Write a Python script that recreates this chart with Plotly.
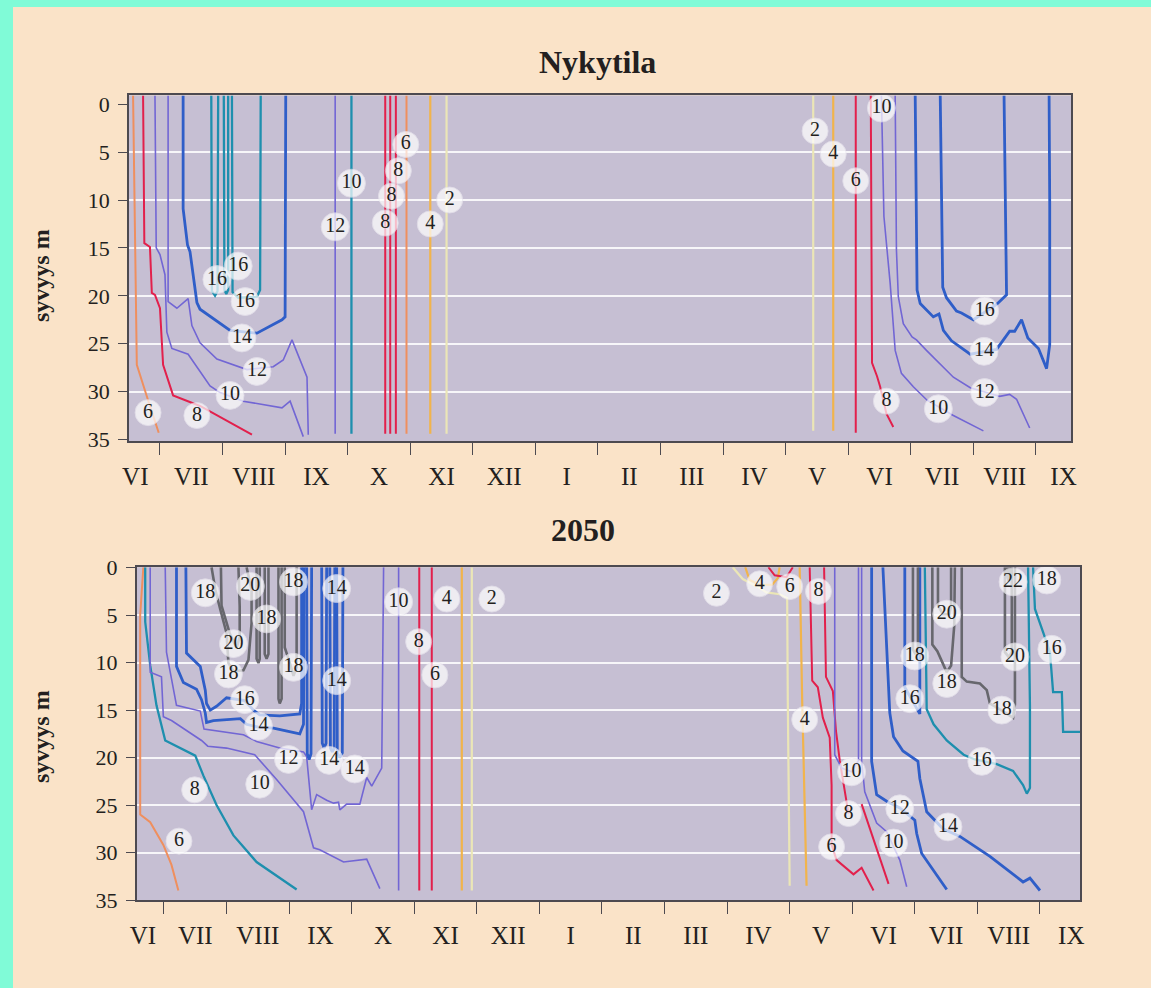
import plotly.graph_objects as go

W, H = 1151, 988

MONTHS = ["VI", "VII", "VIII", "IX", "X", "XI", "XII", "I", "II", "III",
          "IV", "V", "VI", "VII", "VIII", "IX"]
DEPTH_TICKS = [0, 5, 10, 15, 20, 25, 30, 35]
GRID_DEPTHS = [5, 10, 15, 20, 25, 30]

# line colours
PALE = "#ebe6b6"
YELLOW = "#f1b44c"
ORANGE = "#ef8f5e"
RED = "#e2204c"
PURPLE = "#7266d4"
BLUE = "#2f5ec8"
TEAL = "#1e8fae"
GRAY = "#67676d"

# ---------------------------------------------------------------------------
# Nykytila — isotherms as (month, depth m) vertices.
# month 0 = 1 June, 7 = 1 January, 12 = 1 June of the following year.
# depth 0 at a path end means the line reaches the surface.
# ---------------------------------------------------------------------------
now_06_summer = [(0.57, 0), (0.63, 27.2), (0.81, 30.9), (0.98, 34.3)]
now_08_summer = [(0.73, 0), (0.75, 14.5), (0.84, 14.9), (0.87, 19.7), (0.92, 19.9),
                 (1.00, 21.3), (1.05, 27.2), (1.21, 30.4), (1.64, 31.5), (2.47, 34.5)]
now_10_summer = [(0.92, 0), (0.94, 15.0), (1.00, 15.7), (1.08, 17.8), (1.11, 23.8),
                 (1.19, 25.5), (1.45, 26.1), (1.59, 27.4), (1.80, 29.4), (1.96, 30.1),
                 (2.33, 31.0), (2.95, 31.7), (3.08, 31.0), (3.29, 34.7)]
now_12_summer = [(1.13, 0), (1.13, 20.6), (1.27, 21.3), (1.45, 20.3), (1.51, 23.1),
                 (1.64, 24.9), (1.91, 26.6), (2.39, 27.7), (2.81, 27.4), (2.97, 26.7),
                 (3.11, 24.6), (3.24, 26.7), (3.35, 28.5), (3.37, 34.5)]
now_14_summer = [(1.37, 0), (1.37, 10.9), (1.44, 14.7), (1.48, 15.4), (1.59, 20.7),
                 (1.64, 21.4), (2.12, 23.6), (2.55, 23.9), (2.95, 22.5), (3.00, 22.2),
                 (3.01, 0)]
now_16_summer_a = [(1.82, 0), (1.83, 19.5), (1.88, 20.0), (1.92, 19.5), (1.93, 0)]
now_16_summer_b = [(2.02, 0), (2.03, 19.4), (2.06, 19.8), (2.09, 19.4), (2.09, 0)]
now_16_summer_c = [(2.15, 0), (2.16, 19.6), (2.25, 20.2), (2.55, 20.1), (2.60, 19.4),
                   (2.61, 0)]
now_12_autumn = [(3.80, 0), (3.80, 34.4)]
now_10_autumn = [(4.06, 0), (4.06, 34.4)]
now_08_autumn_a = [(4.60, 0), (4.60, 34.4)]
now_08_autumn_b = [(4.68, 0), (4.68, 34.4)]
now_08_autumn_c = [(4.77, 0), (4.77, 34.4)]
now_06_autumn = [(4.94, 0), (4.94, 34.4)]
now_04_autumn = [(5.32, 0), (5.32, 34.4)]
now_02_autumn = [(5.58, 0), (5.58, 34.4)]
now_02_spring = [(11.44, 0), (11.44, 34.1)]
now_04_spring = [(11.76, 0), (11.76, 34.1)]
now_06_spring = [(12.12, 0), (12.12, 34.3)]
now_08_spring = [(12.36, 0), (12.38, 27.0), (12.46, 28.4), (12.51, 29.5), (12.61, 32.3),
                 (12.72, 33.7)]
now_10_spring = [(12.53, 0), (12.57, 11.7), (12.67, 18.7), (12.75, 25.7), (12.85, 28.1),
                 (13.04, 29.5), (13.26, 30.9), (13.68, 32.5), (14.16, 34.1)]
now_12_spring = [(12.75, 0), (12.77, 15.2), (12.80, 20.1), (12.88, 22.9), (13.02, 24.3),
                 (13.09, 24.6), (13.25, 25.7), (13.68, 28.5), (13.95, 29.6), (14.42, 30.5),
                 (14.58, 30.3), (14.69, 30.8), (14.90, 33.8)]
now_14_spring = [(13.07, 0), (13.10, 19.4), (13.15, 20.8), (13.36, 22.2), (13.45, 21.9),
                 (13.52, 23.6), (13.65, 24.7), (13.95, 26.1), (14.37, 25.6), (14.58, 23.7),
                 (14.66, 23.7), (14.77, 22.5), (14.87, 24.4), (15.04, 25.5), (15.17, 27.6),
                 (15.22, 25.1), (15.22, 10.5), (15.21, 0)]
now_16_spring = [(13.47, 0), (13.51, 19.1), (13.57, 20.2), (13.73, 21.6), (13.81, 21.8),
                 (14.00, 22.5), (14.37, 20.9), (14.53, 19.9), (14.49, 0)]

NOW_LINES = [
    (6, ORANGE, now_06_summer), (8, RED, now_08_summer),
    (10, PURPLE, now_10_summer), (12, PURPLE, now_12_summer),
    (14, BLUE, now_14_summer), (16, TEAL, now_16_summer_a),
    (16, TEAL, now_16_summer_b), (16, TEAL, now_16_summer_c),
    (12, PURPLE, now_12_autumn), (10, TEAL, now_10_autumn),
    (8, RED, now_08_autumn_a), (8, RED, now_08_autumn_b), (8, RED, now_08_autumn_c),
    (6, ORANGE, now_06_autumn), (4, YELLOW, now_04_autumn), (2, PALE, now_02_autumn),
    (2, PALE, now_02_spring), (4, YELLOW, now_04_spring), (6, RED, now_06_spring),
    (8, RED, now_08_spring), (10, PURPLE, now_10_spring), (12, PURPLE, now_12_spring),
    (14, BLUE, now_14_spring), (16, BLUE, now_16_spring),
]

NOW_LABEL_T = [6, 8, 10, 12, 14, 16, 16, 16, 12, 10, 8, 8, 8, 6, 4, 2,
               2, 4, 6, 10, 8, 10, 12, 14, 16]
NOW_LABEL_M = [0.81, 1.59, 2.12, 2.55, 2.31, 2.25, 1.91, 2.36, 3.80, 4.06, 4.60, 4.70,
               4.81, 4.93, 5.32, 5.63, 11.47, 11.76, 12.12, 12.53, 12.61, 13.44, 14.18,
               14.17, 14.18]
NOW_LABEL_D = [32.2, 32.5, 30.4, 27.9, 24.4, 16.9, 18.3, 20.6, 12.8, 8.25, 12.4, 9.6,
               6.95, 4.2, 12.5, 10.0, 2.8, 5.2, 8.0, 0.4, 31.0, 31.8, 30.1, 25.8, 21.6]

# ---------------------------------------------------------------------------
# 2050
# ---------------------------------------------------------------------------
fut_06_summer = [(0.67, 0), (0.62, 5.0), (0.62, 26.0), (0.78, 26.8), (0.99, 29.2),
                 (1.12, 31.3), (1.23, 34.0)]
fut_08_summer = [(0.70, 0), (0.70, 5.7), (0.78, 10.3), (0.88, 14.5), (1.02, 18.2),
                 (1.50, 19.8), (1.63, 21.9), (1.84, 25.0), (2.11, 28.2), (2.48, 31.0),
                 (3.12, 33.9)]
fut_10_summer = [(0.78, 0), (0.78, 11.0), (0.96, 11.5), (0.99, 15.7), (1.12, 16.1),
                 (1.60, 18.2), (1.70, 18.8), (2.00, 19.0), (2.45, 19.7), (2.80, 22.3),
                 (3.23, 25.7), (3.39, 29.5), (3.49, 29.7), (3.87, 31.0), (4.24, 30.7),
                 (4.45, 33.8)]
fut_12_summer = [(1.02, 0), (1.04, 8.9), (1.20, 14.5), (1.58, 15.1), (1.64, 17.0),
                 (2.27, 17.6), (2.48, 18.3), (2.85, 19.0), (3.23, 19.4), (3.28, 19.9),
                 (3.36, 25.5), (3.44, 23.9), (3.60, 24.5), (3.71, 24.8), (3.79, 24.7),
                 (3.81, 25.5), (3.92, 24.9), (4.13, 24.9), (4.24, 22.1), (4.32, 23.0),
                 (4.48, 21.1), (4.51, 0)]
fut_14_summer = [(1.20, 0), (1.20, 10.4), (1.31, 12.1), (1.52, 12.8), (1.60, 13.9),
                 (1.66, 15.3), (1.68, 16.3), (1.79, 16.1), (2.22, 15.9), (2.32, 16.5),
                 (2.51, 16.8), (2.75, 16.9), (3.17, 17.5), (3.23, 16.5), (3.24, 0)]
fut_14_summer_b = [(3.28, 0), (3.29, 19.6), (3.32, 20.2), (3.35, 19.6), (3.36, 0)]
fut_14_summer_c = [(3.52, 0), (3.53, 18.5), (3.56, 19.0), (3.59, 18.5), (3.60, 0)]
fut_14_summer_d = [(3.65, 0), (3.66, 19.0), (3.69, 19.4), (3.72, 19.0), (3.73, 0)]
fut_14_summer_e = [(3.76, 0), (3.77, 19.5), (3.81, 20.0), (3.85, 19.5), (3.86, 0)]
fut_16_summer = [(1.35, 0), (1.36, 9.0), (1.58, 10.4), (1.66, 12.9), (1.68, 14.3),
                 (1.74, 15.0), (1.84, 14.6), (2.00, 13.7), (2.29, 14.0), (2.43, 15.0),
                 (2.53, 15.5), (2.85, 15.6), (3.17, 15.4), (3.20, 14.3), (3.20, 0)]
fut_18_summer_a = [(1.76, 0), (1.82, 2.3), (1.90, 4.4), (2.00, 6.9), (2.03, 10.05),
                   (2.11, 10.9), (2.27, 10.8), (2.35, 9.7), (2.40, 5.85), (2.40, 2.35),
                   (2.32, 0)]
fut_20_summer = [(1.91, 0), (1.92, 4.0), (2.05, 6.9), (2.16, 8.45), (2.21, 7.3),
                 (2.21, 4.1), (2.19, 0)]
fut_18_summer_b = [(2.48, 0), (2.48, 9.6), (2.51, 10.05), (2.53, 9.6), (2.53, 0)]
fut_18_summer_c = [(2.61, 0), (2.61, 9.1), (2.64, 9.6), (2.67, 9.1), (2.67, 0)]
fut_18_summer_d = [(2.83, 0), (2.83, 13.8), (2.85, 14.3), (2.88, 13.8), (2.88, 0)]
fut_18_summer_e = [(2.93, 0), (2.93, 8.4), (3.01, 10.0), (3.07, 11.4), (3.12, 10.5),
                   (3.12, 0)]
fut_10_autumn = [(4.75, 0), (4.75, 34.0)]
fut_08_autumn = [(5.08, 0), (5.08, 34.0)]
fut_06_autumn = [(5.28, 0), (5.28, 34.0)]
fut_04_autumn = [(5.76, 0), (5.76, 34.0)]
fut_02_autumn = [(5.92, 0), (5.92, 34.0)]
fut_02_spring = [(10.09, 0), (10.25, 1.2), (10.51, 2.1), (10.63, 2.6), (10.84, 2.8),
                 (10.96, 3.2), (10.97, 14.1), (11.00, 33.5)]
fut_04_spring_arc = [(10.29, 0), (10.36, 1.3), (10.52, 1.8), (10.72, 1.8), (10.81, 1.1),
                     (10.84, 0)]
fut_06_spring_arc = [(10.66, 0), (10.76, 0.8), (10.95, 1.0), (11.05, 0)]
fut_04_spring = [(11.16, 0), (11.20, 14.1), (11.27, 33.5)]
fut_06_spring = [(11.32, 0), (11.36, 11.9), (11.45, 12.6), (11.53, 15.8), (11.64, 17.9),
                 (11.67, 22.9), (11.67, 29.2), (11.75, 30.8), (12.02, 32.3), (12.15, 31.6),
                 (12.34, 34.0)]
fut_08_spring = [(11.55, 0), (11.58, 11.5), (11.69, 13.0), (11.74, 17.2), (11.80, 20.3),
                 (11.90, 24.6), (11.94, 25.9)]
fut_08_spring_b = [(12.15, 24.9), (12.58, 33.3)]
fut_10_spring_a = [(11.72, 0), (11.72, 19.7), (11.83, 21.1), (11.99, 21.5), (12.10, 20.3),
                   (12.10, 0)]
fut_10_spring_b = [(12.15, 0), (12.15, 20.4), (12.20, 23.6), (12.39, 26.9), (12.55, 27.8),
                   (12.76, 30.8), (12.87, 33.6)]
fut_12_spring = [(12.31, 0), (12.31, 20.4), (12.39, 23.9), (12.55, 24.6), (12.76, 25.3),
                 (13.00, 26.6), (13.03, 28.0), (13.11, 30.1), (13.51, 33.9)]
fut_14_spring = [(12.49, 0), (12.60, 15.3), (12.66, 17.8), (12.81, 19.3), (13.05, 20.4),
                 (13.08, 22.2), (13.19, 25.7), (13.45, 27.5), (13.72, 28.3), (14.20, 30.4),
                 (14.73, 33.1), (14.84, 32.7), (15.00, 34.0)]
fut_16_spring = [(12.84, 0), (12.84, 12.6), (12.96, 14.0), (13.08, 15.4), (13.08, 0)]
fut_18_spring_a = [(12.97, 0), (12.97, 8.6), (13.01, 9.1), (13.05, 8.6), (13.05, 0)]
fut_18_spring_b = [(13.28, 0), (13.28, 8.1), (13.36, 8.8), (13.45, 10.2), (13.51, 11.0),
                   (13.58, 10.3), (13.63, 6.1), (13.64, 0)]
fut_20_spring_a = [(13.37, 0), (13.37, 4.0), (13.45, 4.9), (13.55, 4.9), (13.58, 4.0),
                   (13.58, 0)]
fut_18_spring_c = [(13.75, 0), (13.75, 11.5), (13.83, 12.0), (14.04, 12.2), (14.15, 12.9),
                   (14.20, 14.3), (14.39, 15.05), (14.57, 15.8), (14.60, 14.4), (14.60, 0)]
fut_20_spring_b = [(14.44, 0), (14.44, 8.9), (14.50, 9.4), (14.55, 8.9), (14.55, 0)]
fut_22_spring = [(14.48, 0), (14.48, 1.0), (14.50, 1.4), (14.52, 1.0), (14.52, 0)]
fut_16_spring_b = [(13.16, 0), (13.19, 14.9), (13.30, 16.5), (13.51, 18.2), (13.78, 19.7),
                   (13.96, 20.2), (14.31, 20.7), (14.57, 21.4), (14.73, 22.9), (14.79, 23.8),
                   (14.84, 23.2), (14.84, 14.5), (14.81, 0)]
fut_16_late = [(14.89, 0), (14.92, 4.35), (15.05, 6.8), (15.16, 8.9), (15.21, 13.1),
               (15.35, 13.1), (15.37, 17.3), (15.64, 17.3)]

FUT_LINES = [
    (6, ORANGE, fut_06_summer), (8, TEAL, fut_08_summer),
    (10, PURPLE, fut_10_summer), (12, PURPLE, fut_12_summer),
    (14, BLUE, fut_14_summer), (14, BLUE, fut_14_summer_b),
    (14, BLUE, fut_14_summer_c), (14, BLUE, fut_14_summer_d),
    (14, BLUE, fut_14_summer_e), (16, BLUE, fut_16_summer),
    (18, GRAY, fut_18_summer_a), (20, GRAY, fut_20_summer),
    (18, GRAY, fut_18_summer_b), (18, GRAY, fut_18_summer_c),
    (18, GRAY, fut_18_summer_d), (18, GRAY, fut_18_summer_e),
    (10, PURPLE, fut_10_autumn), (8, RED, fut_08_autumn), (6, RED, fut_06_autumn),
    (4, YELLOW, fut_04_autumn), (2, PALE, fut_02_autumn),
    (2, PALE, fut_02_spring), (4, YELLOW, fut_04_spring_arc),
    (6, RED, fut_06_spring_arc), (4, YELLOW, fut_04_spring),
    (6, RED, fut_06_spring), (8, RED, fut_08_spring), (8, RED, fut_08_spring_b),
    (10, PURPLE, fut_10_spring_a), (10, PURPLE, fut_10_spring_b),
    (12, BLUE, fut_12_spring), (14, BLUE, fut_14_spring), (16, BLUE, fut_16_spring),
    (18, GRAY, fut_18_spring_a), (18, GRAY, fut_18_spring_b),
    (20, GRAY, fut_20_spring_a), (18, GRAY, fut_18_spring_c),
    (20, GRAY, fut_20_spring_b), (22, GRAY, fut_22_spring),
    (16, TEAL, fut_16_spring_b), (16, TEAL, fut_16_late),
]

FUT_LABEL_T = [18, 20, 18, 14, 18, 20, 18, 18, 14, 16, 14, 12, 14, 14, 8, 10, 6,
               10, 8, 6, 4, 2,
               2, 4, 6, 8, 4, 10, 8, 6, 12, 10, 14, 16, 18, 20, 18, 16, 18, 20, 22,
               18, 16]
FUT_LABEL_M = [1.66, 2.38, 3.07, 3.76, 2.64, 2.11, 3.07, 2.03, 3.76, 2.29, 2.51, 2.99,
               3.64, 4.05, 1.49, 2.53, 1.24,
               4.75, 5.07, 5.33, 5.52, 6.24,
               9.83, 10.52, 11.00, 11.46, 11.24, 11.99, 11.94, 11.67, 12.76, 12.66,
               13.53, 12.92, 13.00, 13.51, 13.51, 14.07, 14.39, 14.60, 14.57,
               15.11, 15.19]
FUT_LABEL_D = [2.65, 1.97, 1.5, 2.2, 5.4, 8.0, 10.5, 11.2, 11.9, 13.9, 16.7, 20.2,
               20.3, 21.2, 23.4, 22.8, 28.8,
               3.6, 7.8, 11.3, 3.3, 3.3,
               2.7, 1.7, 2.0, 2.5, 16.0, 21.5, 25.9, 29.4, 25.4, 29.0,
               27.3, 13.8, 9.3, 4.9, 12.2, 20.4, 15.0, 9.4, 1.5,
               1.3, 8.6]

# ---------------------------------------------------------------------------
# styling
# ---------------------------------------------------------------------------
PAGE = "#fae3c8"
PANEL = "#c6bfd3"
FRAME = "#4d4a50"
INK = "#231f20"
SERIF = "Liberation Serif"
WIDTH = {PALE: 2.2, YELLOW: 2.2, ORANGE: 2.0, RED: 2.0, PURPLE: 1.6,
         BLUE: 2.8, TEAL: 2.3, GRAY: 2.6}


def px_box(left, top, right, bottom):
    """pixel box -> (x domain, y domain) in paper fractions"""
    return [left / W, right / W], [1 - bottom / H, 1 - top / H]


PANELS = [
    dict(ax="", box=(129, 95.4, 1071, 441.4), mrange=(0.505, 15.56),
         drange=(35.2, -0.92), lines=NOW_LINES,
         labels=(NOW_LABEL_T, NOW_LABEL_M, NOW_LABEL_D),
         title="Nykytila", title_xy=(597, 62), ylab_y=276),
    dict(ax="2", box=(136.7, 567.2, 1080, 900), mrange=(0.564, 15.64),
         drange=(35.0, -0.05), lines=FUT_LINES,
         labels=(FUT_LABEL_T, FUT_LABEL_M, FUT_LABEL_D),
         title="2050", title_xy=(583, 530), ylab_y=737),
]

fig = go.Figure()
layout = dict(
    width=W, height=H, autosize=False,
    margin=dict(l=0, r=0, t=0, b=0, pad=0, autoexpand=False),
    paper_bgcolor=PAGE, plot_bgcolor=PANEL, showlegend=False,
    annotations=[], shapes=[],
)

for p in PANELS:
    xa, ya = "x" + p["ax"], "y" + p["ax"]
    xdom, ydom = px_box(*p["box"])
    lo, hi = p["mrange"]
    surface = p["drange"][1]

    for temp, colour, pts in p["lines"]:
        xs = [m for m, _ in pts]
        ys = [surface if (d == 0 and i in (0, len(pts) - 1)) else d
              for i, (_, d) in enumerate(pts)]
        fig.add_trace(go.Scatter(
            x=xs, y=ys, xaxis=xa, yaxis=ya, mode="lines",
            line=dict(color=colour, width=WIDTH[colour]),
            hoverinfo="skip", name=f"{temp} °C"))

    temps, ms, ds = p["labels"]
    fig.add_trace(go.Scatter(
        x=ms, y=ds, xaxis=xa, yaxis=ya, mode="markers+text",
        text=[str(t) for t in temps], textposition="middle center",
        textfont=dict(family=SERIF, size=20, color=INK),
        marker=dict(symbol="circle", size=[28 if t >= 10 else 26 for t in temps],
                    color="white",
                    line=dict(color="rgba(235,232,240,0.9)", width=1)),
        cliponaxis=False, hoverinfo="skip"))

    mids = [min(max(k + 0.5, lo + 0.1), hi - 0.12) for k in range(len(MONTHS))]
    layout["xaxis" + p["ax"]] = dict(
        domain=xdom, range=[lo, hi], anchor=ya, automargin=False,
        tickmode="array", tickvals=mids, ticktext=MONTHS, ticks="",
        ticklabelstandoff=12,
        tickfont=dict(family=SERIF, size=25, color=INK),
        showgrid=False, zeroline=False,
        showline=True, mirror=True, linecolor=FRAME, linewidth=1.6,
        minor=dict(tickmode="array", tickvals=list(range(1, 16)), ticks="outside",
                   ticklen=12, tickwidth=1.3, tickcolor=FRAME, showgrid=False),
    )
    layout["yaxis" + p["ax"]] = dict(
        domain=ydom, range=list(p["drange"]), anchor=xa, automargin=False,
        tickmode="array", tickvals=DEPTH_TICKS, ticks="outside", ticklen=9,
        tickwidth=1.3, tickcolor=FRAME, ticklabelstandoff=4,
        tickfont=dict(family=SERIF, size=22, color=INK),
        showgrid=False, zeroline=False,
        showline=True, mirror=True, linecolor=FRAME, linewidth=1.6,
        minor=dict(tickmode="array", tickvals=GRID_DEPTHS, ticks="", showgrid=True,
                   gridcolor="rgba(255,255,255,0.85)", gridwidth=1.5),
    )

    tx, ty = p["title_xy"]
    layout["annotations"].append(dict(
        x=tx / W, y=1 - ty / H, xref="paper", yref="paper", text=p["title"],
        showarrow=False, xanchor="center", yanchor="middle",
        font=dict(family=SERIF, size=32, color=INK, weight="bold")))
    layout["annotations"].append(dict(
        x=41 / W, y=1 - p["ylab_y"] / H, xref="paper", yref="paper",
        text="syvyys m", textangle=-90, showarrow=False,
        xanchor="center", yanchor="middle",
        font=dict(family=SERIF, size=24, color=INK, weight="bold")))

# aquamarine strips along the left and top edges of the page
layout["shapes"] += [
    dict(type="rect", xref="paper", yref="paper", x0=0, x1=13 / W, y0=0, y1=1,
         fillcolor="#80fbd7", line=dict(width=0), layer="above"),
    dict(type="rect", xref="paper", yref="paper", x0=0, x1=1, y0=1 - 7 / H, y1=1,
         fillcolor="#80fbd7", line=dict(width=0), layer="above"),
]

fig.update_layout(**layout)
# the page body carries no margin so the figure fills the window exactly
fig.write_html(
    "out.html",
    post_script="document.body.style.margin='0';document.body.style.overflow='hidden';",
)
